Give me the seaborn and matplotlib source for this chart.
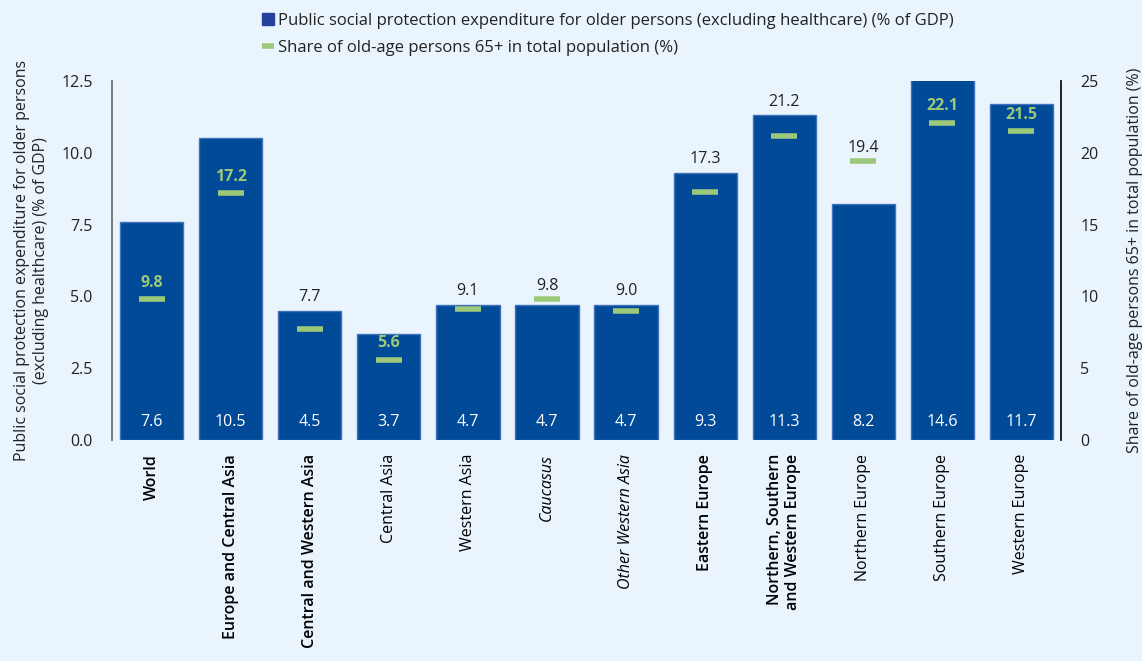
import numpy as np
import pandas as pd
import matplotlib
matplotlib.use("Agg")
import matplotlib.pyplot as plt
from matplotlib.lines import Line2D
import seaborn as sns

regions = ["World", "Europe and Central Asia", "Central and Western Asia", "Central Asia",
           "Western Asia", "Caucasus", "Other Western Asia", "Eastern Europe",
           "Northern, Southern\nand Western Europe", "Northern Europe", "Southern Europe",
           "Western Europe"]
label_style = ["bold", "bold", "bold", "normal", "normal", "italic", "italic", "bold",
               "bold", "normal", "normal", "normal"]
expenditure = [7.6, 10.5, 4.5, 3.7, 4.7, 4.7, 4.7, 9.3, 11.3, 8.2, 14.6, 11.7]
share_65 = [9.8, 17.2, 7.7, 5.6, 9.1, 9.8, 9.0, 17.3, 21.2, 19.4, 22.1, 21.5]

BG = "#EAF4FD"
BLUE = "#004A98"
EDGE = "#3F74BC"
GREEN = "#9CC87A"
TEXT = "#222222"
FS = 11.5

sns.set_theme(style="white")
plt.rcParams["font.family"] = ["Open Sans", "DejaVu Sans"]
plt.rcParams["font.size"] = FS

fig = plt.figure(figsize=(11.42, 6.61), dpi=100, facecolor=BG)
ax = fig.add_axes([0.0981, 0.3343, 0.8310, 0.5432])
ax.set_facecolor(BG)

df = pd.DataFrame({"region": regions, "exp": expenditure, "share": share_65})
sns.barplot(data=df, x="region", y="exp", color=BLUE, saturation=1, width=0.8,
            edgecolor=EDGE, linewidth=1, ax=ax)

LEFT_MAX, RIGHT_MAX = 12.5, 25
ax.set_ylim(0, LEFT_MAX)
ax.set_xlim(-0.5, len(regions) - 0.5)
ax.set_yticks([0, 2.5, 5, 7.5, 10, 12.5])
ax.set_yticklabels(["0.0", "2.5", "5.0", "7.5", "10.0", "12.5"])
ax.tick_params(axis="y", length=0, pad=14, labelsize=FS, labelcolor=TEXT)
ax.tick_params(axis="x", length=0, pad=10)
ax.set_xlabel("")
ax.set_ylabel("Public social protection expenditure for older persons\n(excluding healthcare) (% of GDP)",
              fontsize=FS, color=TEXT, labelpad=9)
for s in ["top", "right", "bottom"]:
    ax.spines[s].set_visible(False)
ax.spines["left"].set_color("#6E6E6E")
ax.spines["left"].set_linewidth(1.3)

ax.set_xticks(range(len(regions)))
ax.set_xticklabels(regions, rotation=90, fontsize=FS, color="black", va="top", ha="center",
                   multialignment="right")
for lab, st in zip(ax.get_xticklabels(), label_style):
    if st == "bold":
        lab.set_fontweight(600)
    elif st == "italic":
        lab.set_fontstyle("italic")

# value at the foot of each bar
for i, v in enumerate(expenditure):
    ax.annotate(f"{v:.1f}", (i, 0), xytext=(0, 7), textcoords="offset points",
                ha="center", va="bottom", color="white", fontsize=FS)

ax2 = ax.twinx()
ax2.set_ylim(0, RIGHT_MAX)
ax2.set_yticks([0, 5, 10, 15, 20, 25])
ax2.tick_params(axis="y", length=0, pad=14, labelsize=FS, labelcolor=TEXT)
for s in ["top", "left", "bottom"]:
    ax2.spines[s].set_visible(False)
ax2.spines["right"].set_color("#111111")
ax2.spines["right"].set_linewidth(1.3)
ax2.set_ylabel("Share of old-age persons 65+ in total population (%)", fontsize=FS,
               color=TEXT, labelpad=20)
ax2.grid(False)
ax.grid(False)

x = np.arange(len(regions))
ax2.plot(x, share_65, ls="none", marker="_", markersize=19, mew=4, color=GREEN)

scale = RIGHT_MAX / LEFT_MAX
for i, (e, s) in enumerate(zip(expenditure, share_65)):
    bar_top = e * scale
    if s + 1.6 < bar_top:
        ax2.annotate(f"{s:.1f}", (i, s), xytext=(0, 6), textcoords="offset points",
                     ha="center", va="bottom", color=GREEN, fontweight="bold", fontsize=FS)
    else:
        anchor = max(bar_top, s)
        ax2.annotate(f"{s:.1f}", (i, anchor), xytext=(0, 4), textcoords="offset points",
                     ha="center", va="bottom", color=TEXT, fontsize=FS)

handles = [
    Line2D([], [], ls="none", marker="s", markersize=8.5, color="#24409A"),
    Line2D([], [], ls="none", marker="_", markersize=9, mew=4, color=GREEN),
]
labels = ["Public social protection expenditure for older persons (excluding healthcare) (% of GDP)",
          "Share of old-age persons 65+ in total population (%)"]
leg = fig.legend(handles, labels, loc="upper left", bbox_to_anchor=(0.219, 0.998),
                 frameon=False, fontsize=12, handletextpad=0.15, handlelength=0.8,
                 labelspacing=0.65, borderaxespad=0.3)
for t in leg.get_texts():
    t.set_color(TEXT)

fig.savefig("out.png", dpi=100, facecolor=BG)
